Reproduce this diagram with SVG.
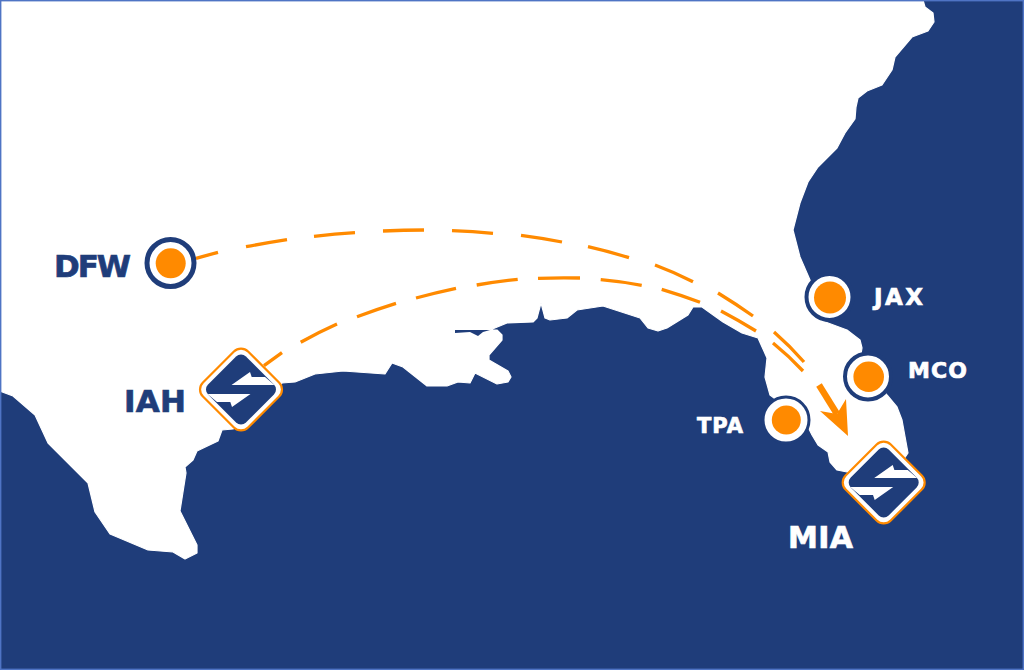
<svg xmlns="http://www.w3.org/2000/svg" width="1024" height="670" viewBox="0 0 1024 670">
<style>
.lbl{font-family:"DejaVu Sans","Liberation Sans",sans-serif;font-weight:700;stroke-width:.7}
.nv{fill:#1f3d7a}.wt{fill:#fff}.or{fill:#ff8a00}
text.nv{stroke:#1f3d7a}text.wt{stroke:#fff}
.ring{fill:#fff;stroke:#1f3d7a}
.dash{fill:none;stroke:#ff8a00;stroke-width:3.300}
</style>
<defs>
<g id="logo">
<rect x="-31.900" y="-31.900" width="63.800" height="63.800" rx="10" transform="rotate(45)" fill="#fff" stroke="#ff8a00" stroke-width="2.200"/>
<rect x="-26.800" y="-26.800" width="53.600" height="53.600" rx="7" transform="rotate(45)" class="nv"/>
<path class="wt" d="M-9.500-4.500 9-17.500 10.700-12.500H24L33.500-4.500Z"/>
<path class="wt" d="M9.500 4.500-9 17.500-10.700 12.500H-24L-33.500 4.500Z"/>
</g>
</defs>
<rect id="sea" x="0" y="0" width="1024" height="670" class="nv"/>
<path id="land" fill="#fff" stroke="#fff" stroke-width="1.200" stroke-linejoin="round" d="M0 0H923L925 7 933 13 934 22 928 31 912 37 895 57 892 70 882 85 867 91 858 98 856 107 855 119 845 133 837 148 818 167 808 182 800 203 793 230 800 257 810 280 820 320 847 330 860 340 862 348 860 360 887 395 897 407 902 420 908 453 890 480 847 472 837 470 830 462 828 452 818 445 812 435 808 427 790 410 770 395 765 377 767 358 758 338 742 333 723 322 702 307 693 307 688 315 667 328 658 331 648 328 640 318 603 306 577 310 567 318 550 320 545 318 541 303 537 318 533 322 507 323 490 330 497 330 502 335 502 340 489 355 489 360 508 371 511 377 508 382 497 384 475 373 470 383 458 382 447 386 427 386 403 367 392 363 385 374 343 371 315 374 295 382 282 383 250 420 233 429 222 430 218 441 197 451 193 460 185 467 186 473 180 511 197 545 197 553 185 559 173 552 148 550 110 534 95 512 88 483 48 443 35 415 13 396 0 391Z"/>
<path id="inlet" class="nv" d="M455 330 490 330 483 332 478 336 470 332 455 333Z"/>
<g id="connectors">
<path class="dash" d="M196 258.300 218 252.300M246 246.700Q266 243 287 239.700M314 236.300Q335 234 355 232.700M383 231Q404 230.200 424 230M452 230.700Q473 231.500 493 233.300M521 235.300Q542 238 562 242M588 246.700Q609 251.500 629 257.700M655 265Q675 272.500 693 281.700M718 293Q736 304 753 316M774 332Q790 346 804 362"/>
<path class="dash" d="M264 365.700 282 352.700M300.700 342.300Q318 332.500 337 324M357 316.700Q376 309.500 396 303.300M416 298Q436 292.500 456 288.300M476.700 285Q497 281.500 517.700 279.300M538 278.300Q559 277.500 580 278M600.700 279.700Q621 281.500 641.700 285.300M661.700 289.300Q681 295 700 302.300M721 311Q739 320.500 756 331M773 343Q789 356 803 371"/>
<path fill="none" stroke="#ff8a00" stroke-width="6.500" d="M819 385 837 414"/>
<path class="or" d="M820 411 837 414 846 399 848 436Z"/>
</g>
<g id="DFW"><circle cx="170.500" cy="263" r="23.500" class="ring" stroke-width="5"/><circle cx="170.700" cy="263.300" r="15" class="or"/><text class="lbl nv" x="54" y="277" font-size="31" textLength="77">DFW</text></g>
<g id="IAH"><use href="#logo" x="241" y="389.500"/><text class="lbl nv" x="124" y="411.500" font-size="31" textLength="62">IAH</text></g>
<g id="JAX"><circle cx="829.500" cy="297" r="23" class="ring" stroke-width="4"/><circle cx="830" cy="297.500" r="16" class="or"/><text class="lbl wt" x="874" y="305" font-size="23" textLength="49">JAX</text></g>
<g id="MCO"><circle cx="868" cy="376.500" r="23" class="ring" stroke-width="4"/><circle cx="868.700" cy="376.700" r="15.300" class="or"/><text class="lbl wt" x="908" y="378" font-size="22" textLength="59">MCO</text></g>
<g id="TPA"><circle cx="786" cy="420" r="23" class="ring" stroke-width="3"/><circle cx="786.300" cy="420" r="14.500" class="or"/><text class="lbl wt" x="697" y="433" font-size="21" textLength="46">TPA</text></g>
<g id="MIA"><use href="#logo" x="883.700" y="482.500"/><text class="lbl wt" x="788" y="548" font-size="30" textLength="65">MIA</text></g>
<rect id="frame" x="0.700" y="0.700" width="1022.600" height="668.600" fill="none" stroke="#4f74c4" stroke-width="1.400"/>
</svg>
